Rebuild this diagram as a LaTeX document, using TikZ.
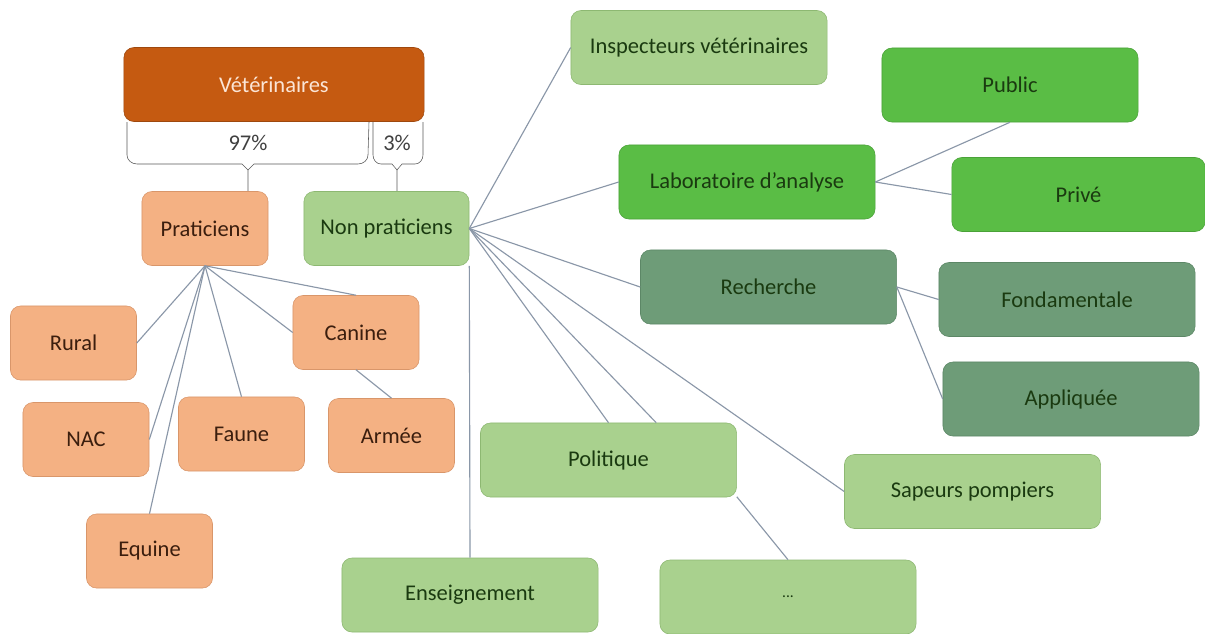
\documentclass[tikz,border=0pt]{standalone}
\usepackage{fontspec}
\setmainfont{Carlito}
\usepackage{tikz}

\definecolor{vetorange}{HTML}{C55A11}
\definecolor{vettext}{HTML}{FBE5D6}
\definecolor{pracorange}{HTML}{F4B183}
\definecolor{pracborder}{HTML}{D9966A}
\definecolor{practext}{HTML}{3B1E0E}
\definecolor{lightgreen}{HTML}{A9D18E}
\definecolor{lightborder}{HTML}{8DB872}
\definecolor{midgreen}{HTML}{5ABD45}
\definecolor{midborder}{HTML}{4AA238}
\definecolor{darkgreen}{HTML}{6E9C78}
\definecolor{darkborder}{HTML}{5C8766}
\definecolor{greentext}{HTML}{1A3A10}
\definecolor{linkgray}{HTML}{8A97A8}

\begin{document}
\begin{tikzpicture}[x=0.025cm, y=-0.025cm,
  every node/.style={draw, rounded corners=0.25cm, minimum height=1.85cm, inner sep=0pt, font=\fontsize{16}{19}\selectfont},
  pracbox/.style={fill=pracorange, draw=pracborder, text=practext, minimum width=3.15cm},
  npbox/.style={fill=lightgreen, draw=lightborder, text=greentext, minimum width=6.4cm},
  labbox/.style={fill=midgreen, draw=midborder, text=greentext, minimum width=6.4cm},
  rechbox/.style={fill=darkgreen, draw=darkborder, text=greentext, minimum width=6.4cm},
  pct/.style={draw=none, fill=none, minimum height=0pt, text=black!75}]

  \fill[white] (0,0) rectangle (1205,633);
  \useasboundingbox (0,0) rectangle (1205,633);

  % Top node
  \node[fill=vetorange, draw=vetorange!80!black, text=vettext, minimum width=7.5cm] (vet) at (274,84.5) {Vétérinaires};

  % Braces
  \draw[black!65] (127,122) -- (127,155) to[out=-90,in=180] (137,164) -- (242,164) -- (248,170) -- (248,191);
  \draw[black!65] (369,122) -- (368,155) to[out=-90,in=0] (358,164) -- (254,164) -- (248,170);
  \draw[black!65] (373,122) -- (373,155) to[out=-90,in=180] (381,164) -- (392,164) -- (397,170) -- (397,191);
  \draw[black!65] (423,122) -- (423,155) to[out=-90,in=0] (415,164) -- (402,164) -- (397,170);
  \node[pct] (p97) at (248,143) {97\%};
  \node[pct] (p3) at (397,143) {3\%};

  % Praticiens
  \node[pracbox, minimum width=3.15cm] (prat) at (205,228.5) {Praticiens};
  \node[pracbox] (rural) at (73.5,343) {Rural};
  \node[pracbox] (nac) at (86,439.5) {NAC};
  \node[pracbox] (faune) at (241.5,434) {Faune};
  \node[pracbox] (canine) at (356,332.5) {Canine};
  \node[pracbox] (armee) at (391.5,435.5) {Armée};
  \node[pracbox] (equine) at (149.5,551) {Equine};

  % Non praticiens
  \node[npbox, minimum width=4.125cm] (np) at (386.5,228.5) {Non praticiens};
  \node[npbox] (insp) at (699,47.5) {Inspecteurs vétérinaires};
  \node[labbox] (lab) at (747,182) {Laboratoire d'analyse};
  \node[labbox] (pub) at (1010,85) {Public};
  \node[labbox, minimum width=6.33cm] (priv) at (1078.5,194.5) {Privé};
  \node[rechbox] (rech) at (768.5,287) {Recherche};
  \node[rechbox] (fond) at (1067,299.5) {Fondamentale};
  \node[rechbox] (appl) at (1071,399) {Appliquée};
  \node[npbox] (pol) at (608.5,460) {Politique};
  \node[npbox] (sap) at (972.5,491.5) {Sapeurs pompiers};
  \node[npbox] (ens) at (470,595) {Enseignement};
  \node[npbox, font=\fontsize{11}{13}\selectfont] (etc) at (788,597) {...};

  % Lines
  \draw[linkgray, line width=0.8pt] (prat.south) -- (rural.east);
  \draw[linkgray, line width=0.8pt] (prat.south) -- (nac.east);
  \draw[linkgray, line width=0.8pt] (prat.south) -- (equine.north);
  \draw[linkgray, line width=0.8pt] (prat.south) -- (faune.north);
  \draw[linkgray, line width=0.8pt] (prat.south) -- (canine.west);
  \draw[linkgray, line width=0.8pt] (prat.south) -- (canine.north);
  \draw[linkgray, line width=0.8pt] (canine.south) -- (armee.north);

  \draw[linkgray, line width=0.8pt] (np.east) -- (insp.west);
  \draw[linkgray, line width=0.8pt] (np.east) -- (lab.west);
  \draw[linkgray, line width=0.8pt] (np.east) -- (rech.west);
  \draw[linkgray, line width=0.8pt] (np.east) -- (pol.north);
  \draw[linkgray, line width=0.8pt] (np.east) -- (pol.38);
  \draw[linkgray, line width=0.8pt] (np.east) -- (sap.west);
  \draw[linkgray, line width=0.8pt] (np.south east) -- (ens.north);

  \draw[linkgray, line width=0.8pt] (lab.east) -- (pub.south);
  \draw[linkgray, line width=0.8pt] (lab.east) -- (priv.west);
  \draw[linkgray, line width=0.8pt] (rech.east) -- (fond.west);
  \draw[linkgray, line width=0.8pt] (rech.east) -- (appl.west);
  \draw[linkgray, line width=0.8pt] (pol.-16) -- (etc.north);
\end{tikzpicture}
\end{document}
